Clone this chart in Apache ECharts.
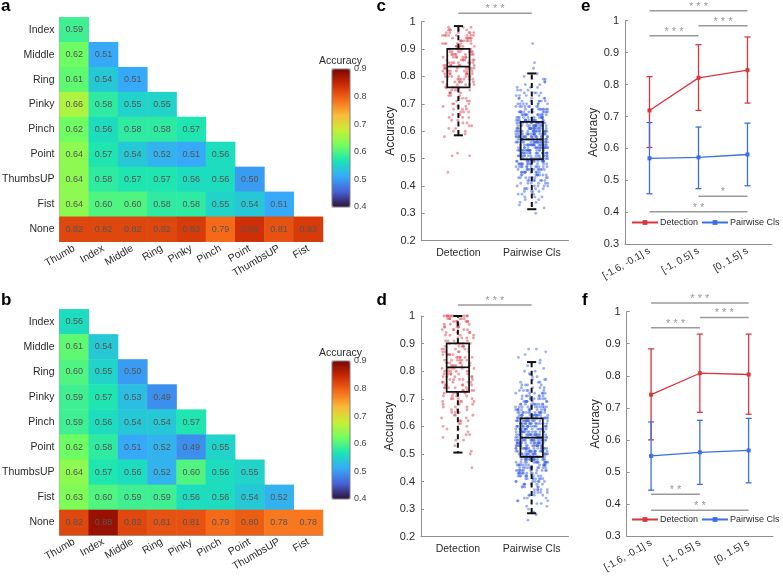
<!DOCTYPE html>
<html><head><meta charset="utf-8">
<script src="https://cdn.jsdelivr.net/npm/echarts@6/dist/echarts.min.js"></script>
<style>html,body{margin:0;padding:0;background:#fff}#chart{width:783px;height:580px}</style>
</head><body><div id="chart"></div>
<script>
// ---------------- DATA ----------------
const gestureCols = ['Thumb','Index','Middle','Ring','Pinky','Pinch','Point','ThumbsUP','Fist'];
const gestureRows = ['Index','Middle','Ring','Pinky','Pinch','Point','ThumbsUP','Fist','None'];
const accA = [
  [0.59],
  [0.62,0.51],
  [0.61,0.54,0.51],
  [0.66,0.58,0.55,0.55],
  [0.62,0.56,0.58,0.58,0.57],
  [0.64,0.57,0.54,0.52,0.51,0.56],
  [0.64,0.58,0.57,0.57,0.56,0.56,0.50],
  [0.64,0.60,0.60,0.58,0.58,0.55,0.54,0.51],
  [0.82,0.82,0.82,0.82,0.83,0.79,0.84,0.81,0.83]
];
const accB = [
  [0.56],
  [0.61,0.54],
  [0.60,0.55,0.50],
  [0.59,0.57,0.53,0.49],
  [0.59,0.56,0.54,0.54,0.57],
  [0.62,0.58,0.51,0.52,0.49,0.55],
  [0.64,0.57,0.56,0.52,0.60,0.56,0.55],
  [0.63,0.60,0.59,0.59,0.56,0.56,0.54,0.52],
  [0.82,0.88,0.82,0.81,0.81,0.79,0.80,0.78,0.78]
];
const colorbarRange = [0.4, 0.9];

const boxCats = ['Detection','Pairwise Cls'];
// [value, number of points]
const detCBins = [[.45,1],[.51,2],[.52,1],[.58,1],[.59,1],[.60,2],[.61,2],[.62,2],[.63,2],[.64,2],[.65,3],[.66,2],[.67,3],[.68,3],[.69,3],[.70,3],[.71,3],[.72,3],[.73,3],[.74,4],[.75,4],[.76,5],[.77,5],[.78,6],[.79,6],[.80,7],[.81,7],[.82,8],[.83,8],[.84,7],[.85,7],[.86,7],[.87,7],[.88,7],[.89,7],[.90,7],[.91,6],[.92,6],[.93,7],[.94,6],[.95,8],[.96,6],[.97,5],[.98,3]];
const pwCBins = [[.30,1],[.32,1],[.33,1],[.34,2],[.35,2],[.36,3],[.37,3],[.38,4],[.39,5],[.40,5],[.41,6],[.42,7],[.43,8],[.44,9],[.45,10],[.46,11],[.47,12],[.48,13],[.49,14],[.50,16],[.51,17],[.52,17],[.53,18],[.54,18],[.55,19],[.56,19],[.57,19],[.58,19],[.59,18],[.60,18],[.61,17],[.62,16],[.63,15],[.64,14],[.65,13],[.66,12],[.67,11],[.68,9],[.69,8],[.70,7],[.71,6],[.72,5],[.73,4],[.74,4],[.75,3],[.76,3],[.77,2],[.78,2],[.79,2],[.80,1],[.81,1],[.83,1],[.85,1],[.92,1]];
const detDBins = [[.45,1],[.50,1],[.51,1],[.53,1],[.55,2],[.56,1],[.57,2],[.58,1],[.59,2],[.60,2],[.61,2],[.62,3],[.63,2],[.64,3],[.65,3],[.66,3],[.67,3],[.68,3],[.69,4],[.70,4],[.71,4],[.72,5],[.73,5],[.74,5],[.75,5],[.76,5],[.77,5],[.78,5],[.79,6],[.80,6],[.81,6],[.82,7],[.83,6],[.84,6],[.85,6],[.86,6],[.87,5],[.88,5],[.89,5],[.90,5],[.91,4],[.92,4],[.93,4],[.94,4],[.95,5],[.96,5],[.97,5],[.98,6],[.99,6],[1.0,10]];
const pwDBins = [[.26,1],[.28,1],[.29,1],[.30,1],[.31,2],[.32,2],[.33,3],[.34,3],[.35,4],[.36,4],[.37,5],[.38,5],[.39,6],[.40,7],[.41,8],[.42,9],[.43,10],[.44,11],[.45,12],[.46,13],[.47,14],[.48,15],[.49,16],[.50,17],[.51,17],[.52,18],[.53,18],[.54,18],[.55,19],[.56,19],[.57,19],[.58,18],[.59,18],[.60,17],[.61,17],[.62,16],[.63,15],[.64,14],[.65,13],[.66,12],[.67,11],[.68,10],[.69,9],[.70,8],[.71,7],[.72,6],[.73,5],[.74,4],[.75,4],[.76,3],[.77,3],[.78,2],[.79,2],[.80,2],[.81,1],[.82,1],[.83,1],[.84,1],[.85,1],[.86,1],[.87,1],[.88,2]];
// [category, lower whisker, Q1, median, Q3, upper whisker]
const boxC = [[0,.585,.760,.836,.901,.984],[1,.315,.497,.570,.634,.811]];
const boxD = [[0,.505,.725,.814,.901,1.0],[1,.285,.489,.559,.629,.833]];

const windows = ['[-1.6, -0.1] s','[-1, 0.5] s','[0, 1.5] s'];
const eDetMean = [0.719, 0.821, 0.845];
const eDetLow  = [0.603, 0.719, 0.742];
const eDetHigh = [0.825, 0.925, 0.949];
const ePwMean  = [0.569, 0.572, 0.581];
const ePwLow   = [0.458, 0.474, 0.483];
const ePwHigh  = [0.681, 0.667, 0.679];
const fDetMean = [0.741, 0.808, 0.804];
const fDetLow  = [0.600, 0.686, 0.680];
const fDetHigh = [0.884, 0.930, 0.930];
const fPwMean  = [0.550, 0.561, 0.567];
const fPwLow   = [0.443, 0.461, 0.466];
const fPwHigh  = [0.656, 0.661, 0.667];
// [from category, y level, to category, stars]
const sigC = [[0,1.031,1,'***']];
const sigD = [[0,1.040,1,'***']];
const sigE = [[0,1.031,2,'***'],[0,0.953,1,'***'],[1,0.984,2,'***'],[1,0.450,2,'*'],[0,0.402,2,'**']];
const sigF = [[0,1.027,2,'***'],[0,0.950,1,'***'],[1,0.982,2,'***'],[0,0.430,1,'**'],[0,0.380,2,'**']];

// ---------------- STYLE ----------------
const FONT = '"Liberation Sans", Arial, Helvetica, sans-serif';
const turbo = ['#30123b','#4662d7','#36aaf9','#1ae4b6','#72fe5e','#c7ef34','#fabb39','#f66b19','#cb2a04','#7a0403'];
const RED = '#d9363e', BLUE = '#3b6fe3';
const AX = '#8f8f8f', TXT = '#2b2b2b';

function toCells(m){ const out=[]; m.forEach((row,r)=>row.forEach((v,c)=>out.push([c,r,v]))); return out; }
function expand(bins, cat){ const out=[]; bins.forEach(([v,n])=>{ for(let k=0;k<n;k++) out.push([cat,v]); }); return out; }
// deterministic horizontal spread in [-1,1] from the point index (integer hash, visual jitter only)
function spread(i){
  let h = Math.imul(i + 1, 0x9E3779B1);
  h ^= h >>> 16; h = Math.imul(h, 0x85EBCA6B);
  h ^= h >>> 13; h = Math.imul(h, 0xC2B2AE35);
  h ^= h >>> 16;
  return (h >>> 0) / 4294967295 * 2 - 1;
}

const grids = [
  {left:59.5, top:17.3, width:263.5, height:224.4},
  {left:59.5, top:309.3, width:263.5, height:225.7},
  {left:332, top:69, width:18, height:138},
  {left:332, top:361, width:18, height:138},
  {left:421.7, top:21.7, width:146.8, height:219},
  {left:421, top:316, width:147.5, height:220.7},
  {left:625, top:20.7, width:147, height:223.5},
  {left:626.7, top:311.7, width:146.3, height:224.3}
].map(g => Object.assign({containLabel:false, outerBoundsMode:'none'}, g));

function heatX(gi){ return {gridIndex:gi, type:'category', data:gestureCols,
  axisLine:{lineStyle:{color:'#a0a0a0'}}, axisTick:{alignWithLabel:true, inside:true, length:3, lineStyle:{color:'#a0a0a0'}},
  axisLabel:{interval:0, rotate:30, fontSize:10.5, color:TXT, margin:6, fontFamily:FONT}, splitLine:{show:false}}; }
function heatY(gi){ return {gridIndex:gi, type:'category', data:gestureRows, inverse:true,
  axisLine:{lineStyle:{color:'#a0a0a0'}}, axisTick:{alignWithLabel:true, inside:true, length:3, lineStyle:{color:'#a0a0a0'}},
  axisLabel:{interval:0, fontSize:10.5, color:TXT, margin:5, fontFamily:FONT}, splitLine:{show:false}}; }
function cbX(gi){ return {gridIndex:gi, type:'value', show:false, min:0, max:1}; }
function cbY(gi){ return {gridIndex:gi, type:'value', min:colorbarRange[0], max:colorbarRange[1], interval:0.1, position:'right',
  axisLine:{show:false}, axisTick:{show:false}, splitLine:{show:false},
  axisLabel:{fontSize:9, color:'#444', margin:4, fontFamily:FONT}}; }
function catX(gi, cats, rot){ return {gridIndex:gi, type:'category', data:cats,
  axisLine:{lineStyle:{color:AX}}, axisTick:{alignWithLabel:true, inside:true, length:3, lineStyle:{color:AX}},
  axisLabel:{interval:0, hideOverlap:false, rotate:rot||0, fontSize:rot?10:10.5, color:TXT, margin:rot?6:7, fontFamily:FONT}, splitLine:{show:false}}; }
function valY(gi, min, gap){ return {gridIndex:gi, type:'value', min:min, max:1, interval:0.1,
  name:'Accuracy', nameLocation:'middle', nameGap:gap, nameTextStyle:{fontSize:12, color:TXT, fontFamily:FONT},
  axisLine:{show:true, lineStyle:{color:AX}}, axisTick:{show:true, inside:true, length:3, lineStyle:{color:AX}},
  axisLabel:{fontSize:11, color:TXT, margin:6, fontFamily:FONT, formatter:v=>String(Math.round(v*10)/10)},
  splitLine:{show:false}}; }

function heatSeries(gi, m){ return {type:'heatmap', xAxisIndex:gi, yAxisIndex:gi, data:toCells(m),
  label:{show:true, formatter:p=>p.value[2].toFixed(2), fontSize:9, color:'#555', fontFamily:FONT},
  itemStyle:{borderWidth:0}, emphasis:{disabled:true}, silent:true}; }

function jitterSeries(gi, bins, cat, color){
  return {type:'custom', xAxisIndex:gi, yAxisIndex:gi, data:expand(bins, cat), silent:true, z:2,
    renderItem:(params, api)=>{
      const p = api.coord([api.value(0), api.value(1)]);
      const band = api.size([1,0])[0];
      const j = spread(params.dataIndex + cat*5000 + gi*20000);
      return {type:'circle', shape:{cx:p[0]+j*band*0.22, cy:p[1], r:1.45}, style:{fill:color}};
    }};
}
function boxSeries(gi, stats){
  return {type:'custom', xAxisIndex:gi, yAxisIndex:gi, data:stats, silent:true, z:5,
    renderItem:(params, api)=>{
      const c = api.value(0);
      const band = api.size([1,0])[0];
      const hw = band*0.152, cw = band*0.062;
      const x = api.coord([c, 0.5])[0];
      const y = i => api.coord([c, api.value(i)])[1];
      const yLo=y(1), yQ1=y(2), yMed=y(3), yQ3=y(4), yHi=y(5);
      const dash = {stroke:'#111', lineWidth:2, lineDash:[5,3.5], fill:null};
      const solid = {stroke:'#111', lineWidth:2, fill:null};
      return {type:'group', children:[
        {type:'line', shape:{x1:x,y1:yQ3,x2:x,y2:yHi}, style:dash},
        {type:'line', shape:{x1:x,y1:yQ1,x2:x,y2:yLo}, style:dash},
        {type:'line', shape:{x1:x-cw,y1:yHi,x2:x+cw,y2:yHi}, style:solid},
        {type:'line', shape:{x1:x-cw,y1:yLo,x2:x+cw,y2:yLo}, style:solid},
        {type:'rect', shape:{x:x-hw,y:yQ3,width:2*hw,height:yQ1-yQ3}, style:{fill:null, stroke:'#111', lineWidth:1.7}},
        {type:'line', shape:{x1:x-hw,y1:yMed,x2:x+hw,y2:yMed}, style:{stroke:'#111', lineWidth:1.7}}
      ]};
    }};
}
function sigSeries(gi, sig){
  return {type:'custom', xAxisIndex:gi, yAxisIndex:gi, data:sig.map(s=>[s[0], s[1], s[2]]), silent:true, clip:false, z:6,
    renderItem:(params, api)=>{
      const p1 = api.coord([api.value(0), api.value(1)]);
      const p2 = api.coord([api.value(2), api.value(1)]);
      const stars = sig[params.dataIndex][3].split('').join(' ');
      return {type:'group', children:[
        {type:'line', shape:{x1:p1[0], y1:p1[1], x2:p2[0], y2:p2[1]}, style:{stroke:'#9a9a9a', lineWidth:1.5}},
        {type:'text', x:(p1[0]+p2[0])/2, y:p1[1]-4, style:{text:stars, fill:'#999', font:'11px '+FONT,
          align:'center', verticalAlign:'middle', textAlign:'center', textVerticalAlign:'middle'}}
      ]};
    }};
}
function errSeries(gi, lo, hi, color){
  return {type:'custom', xAxisIndex:gi, yAxisIndex:gi, data:lo.map((v,i)=>[i, v, hi[i]]), silent:true, z:4,
    itemStyle:{color:color},
    renderItem:(params, api)=>{
      const c = api.value(0);
      const a = api.coord([c, api.value(1)]), b = api.coord([c, api.value(2)]);
      const st = {stroke:color, lineWidth:1.3};
      return {type:'group', children:[
        {type:'line', shape:{x1:a[0],y1:a[1],x2:b[0],y2:b[1]}, style:st},
        {type:'line', shape:{x1:a[0]-3,y1:a[1],x2:a[0]+3,y2:a[1]}, style:st},
        {type:'line', shape:{x1:b[0]-3,y1:b[1],x2:b[0]+3,y2:b[1]}, style:st}
      ]};
    }};
}
function meanLine(gi, name, vals, color){
  return {type:'line', name:name, xAxisIndex:gi, yAxisIndex:gi, data:vals, symbol:'rect', symbolSize:4,
    itemStyle:{color:color}, lineStyle:{color:color, width:1.3}, silent:true, z:5};
}
function letter(t, x, y){ return {type:'text', x:x, y:y, style:{text:t, font:'bold 17px '+FONT, fill:'#000',
  align:'left', verticalAlign:'middle', textAlign:'left', textVerticalAlign:'middle'}}; }
function label(t, x, y, size){ return {type:'text', x:x, y:y, style:{text:t, font:(size||10.5)+'px '+FONT, fill:TXT,
  align:'center', verticalAlign:'middle', textAlign:'center', textVerticalAlign:'middle'}}; }
function legendAt(top){ return {data:['Detection','Pairwise Cls'], left:631, top:top, width:200, padding:0, orient:'horizontal',
  itemWidth:26, itemHeight:6, itemGap:3, textStyle:{fontSize:9, color:TXT, fontFamily:FONT, padding:[0,0,0,-3]}, selectedMode:false}; }

const option = {
  animation:false,
  backgroundColor:'#fff',
  grid: grids,
  xAxis: [heatX(0), heatX(1), cbX(2), cbX(3), catX(4, boxCats), catX(5, boxCats), catX(6, windows, 30), catX(7, windows, 30)],
  yAxis: [heatY(0), heatY(1), cbY(2), cbY(3), valY(4, 0.2, 22), valY(5, 0.2, 22), valY(6, 0.3, 23), valY(7, 0.3, 23)],
  visualMap: [
    {type:'continuous', seriesIndex:0, min:colorbarRange[0], max:colorbarRange[1], left:332, top:69, itemWidth:18, itemHeight:138,
     padding:0, calculable:false, hoverLink:false, inRange:{color:turbo}},
    {type:'continuous', seriesIndex:1, min:colorbarRange[0], max:colorbarRange[1], left:332, top:361, itemWidth:18, itemHeight:138,
     padding:0, calculable:false, hoverLink:false, inRange:{color:turbo}}
  ],
  legend: [legendAt(218), legendAt(515)],
  series: [
    heatSeries(0, accA), heatSeries(1, accB),
    jitterSeries(4, detCBins, 0, 'rgba(220,70,80,0.5)'), jitterSeries(4, pwCBins, 1, 'rgba(60,100,228,0.5)'),
    boxSeries(4, boxC), sigSeries(4, sigC),
    jitterSeries(5, detDBins, 0, 'rgba(220,70,80,0.5)'), jitterSeries(5, pwDBins, 1, 'rgba(60,100,228,0.5)'),
    boxSeries(5, boxD), sigSeries(5, sigD),
    meanLine(6, 'Detection', eDetMean, RED), meanLine(6, 'Pairwise Cls', ePwMean, BLUE),
    errSeries(6, eDetLow, eDetHigh, RED), errSeries(6, ePwLow, ePwHigh, BLUE), sigSeries(6, sigE),
    meanLine(7, 'Detection', fDetMean, RED), meanLine(7, 'Pairwise Cls', fPwMean, BLUE),
    errSeries(7, fDetLow, fDetHigh, RED), errSeries(7, fPwLow, fPwHigh, BLUE), sigSeries(7, sigF)
  ],
  graphic: [
    {type:'rect', shape:{x:332, y:69, width:18, height:138}, style:{fill:null, stroke:'#808080', lineWidth:1}, z:100},
    {type:'rect', shape:{x:332, y:361, width:18, height:138}, style:{fill:null, stroke:'#808080', lineWidth:1}, z:100},
    label('Accuracy', 340.5, 61.5, 10.5), label('Accuracy', 340.5, 353.5, 10.5),
    letter('a', 1, 6), letter('b', 1, 300.5), letter('c', 376.5, 6.5), letter('d', 376.5, 300.5),
    letter('e', 581, 6), letter('f', 582, 300)
  ]
};
const chart = echarts.init(document.getElementById('chart'), null, {renderer:'canvas'});
chart.setOption(option);
</script></body></html>
